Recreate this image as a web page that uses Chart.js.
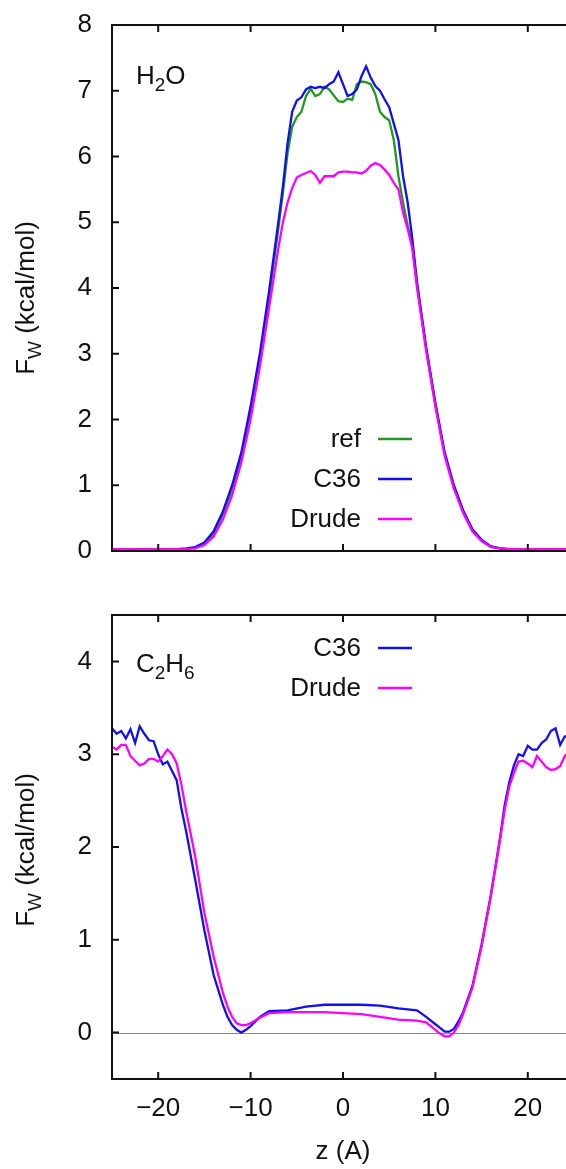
<!DOCTYPE html>
<html>
<head>
<meta charset="utf-8">
<script src="https://cdn.jsdelivr.net/npm/chart.js@4.4.0/dist/chart.umd.min.js"></script>
<style>
  html, body { margin: 0; padding: 0; background: #fff; overflow: hidden; }
  #wrap { position: relative; width: 566px; height: 1169px; overflow: hidden; }
  canvas { position: absolute; left: 0; }
  #topChart { top: 0; }
  #bottomChart { top: 590px; }
</style>
</head>
<body>
<div id="wrap">
  <canvas id="topChart" width="580" height="590"></canvas>
  <canvas id="bottomChart" width="580" height="579"></canvas>
</div>
<script>
"use strict";

/* övre panelen: H2O */
const zTop = [-25, -20, -18, -17, -16, -15, -14, -13, -12, -11, -10, -9, -8, -7, -6.5, -6, -5.5, -5, -4.5, -4,
  -3.5, -3, -2.5, -2, -1.5, -1, -0.5, 0, 0.5, 1, 1.5, 2, 2.5, 3, 3.5, 4, 4.5, 5, 5.5, 6, 6.5, 7, 7.5, 8,
  9, 10, 11, 12, 13, 14, 15, 16, 17, 18, 20, 25];
const refTop = [0.03, 0.03, 0.03, 0.03, 0.05, 0.11, 0.27, 0.56, 0.94, 1.43, 2.1, 2.9, 3.85, 4.9, 5.45, 6.05, 6.45, 6.6, 6.68, 6.92,
  7.03, 6.92, 6.95, 7.06, 7.02, 6.93, 6.84, 6.83, 6.88, 6.86, 7.1, 7.14, 7.13, 7.1, 6.95, 6.68, 6.6, 6.55, 6.25, 5.7, 5.3, 4.95, 4.65, 4.05,
  3.08, 2.22, 1.48, 0.98, 0.6, 0.32, 0.16, 0.07, 0.04, 0.03, 0.03, 0.03];
const c36Top = [0.03, 0.03, 0.03, 0.04, 0.06, 0.13, 0.3, 0.6, 1.0, 1.5, 2.2, 3.0, 3.95, 5.0, 5.55, 6.2, 6.68, 6.85, 6.9, 7.02,
  7.06, 7.04, 7.06, 7.04, 7.1, 7.14, 7.28, 7.1, 6.92, 6.95, 7.02, 7.22, 7.37, 7.2, 7.07, 7.0, 6.87, 6.75, 6.5, 6.25, 5.7, 5.3, 4.75, 4.1,
  3.1, 2.25, 1.5, 1.0, 0.62, 0.33, 0.17, 0.07, 0.04, 0.03, 0.03, 0.03];
const drudeTop = [0.03, 0.03, 0.03, 0.03, 0.04, 0.09, 0.22, 0.48, 0.85, 1.35, 2.0, 2.8, 3.7, 4.6, 5.0, 5.3, 5.52, 5.68, 5.72, 5.75,
  5.78, 5.72, 5.6, 5.7, 5.7, 5.7, 5.76, 5.77, 5.77, 5.76, 5.76, 5.74, 5.78, 5.86, 5.9, 5.87, 5.8, 5.72, 5.6, 5.5, 5.15, 4.9, 4.6, 4.02,
  3.05, 2.2, 1.45, 0.95, 0.58, 0.3, 0.15, 0.06, 0.04, 0.03, 0.03, 0.03];

/* nedre panelen: C2H6 */
const zBottom = [-25, -24.5, -24, -23.5, -23, -22.5, -22, -21.5, -21, -20.5, -20, -19.5, -19, -18.5, -18, -17.5, -17,
  -16, -15, -14, -13, -12.5, -12, -11.5, -11, -10.5, -10, -9, -8, -6, -4, -2, 0, 2, 4, 6, 8, 9, 10, 10.5, 11, 11.5,
  12, 12.5, 13, 14, 15, 16, 17, 17.5, 18, 18.5, 19, 19.5, 20, 20.5, 21, 21.5, 22, 22.5, 23, 23.5, 24, 24.5, 25];
const c36Bottom = [3.28, 3.22, 3.25, 3.17, 3.27, 3.12, 3.3, 3.22, 3.15, 3.14, 3.0, 2.89, 2.92, 2.82, 2.72, 2.42, 2.18,
  1.65, 1.1, 0.62, 0.3, 0.17, 0.08, 0.03, 0.0, 0.03, 0.07, 0.17, 0.23, 0.24, 0.28, 0.3, 0.3, 0.3, 0.29, 0.26, 0.24, 0.17, 0.09, 0.05, 0.01, 0.01,
  0.04, 0.12, 0.22, 0.5, 0.95, 1.48, 2.1, 2.45, 2.7, 2.88, 3.0, 2.98, 3.09, 3.05, 3.05, 3.12, 3.16, 3.25, 3.28, 3.1, 3.19, 3.2, 3.22];
const drudeBottom = [3.08, 3.05, 3.1, 3.1, 2.98, 2.93, 2.88, 2.9, 2.95, 2.95, 2.92, 2.98, 3.05, 3.0, 2.9, 2.68, 2.4,
  1.9, 1.29, 0.82, 0.43, 0.28, 0.17, 0.1, 0.08, 0.08, 0.1, 0.16, 0.21, 0.22, 0.22, 0.22, 0.21, 0.2, 0.17, 0.14, 0.13, 0.11, 0.03, -0.01, -0.04, -0.04,
  0.0, 0.08, 0.2, 0.48, 0.93, 1.47, 2.08, 2.4, 2.65, 2.8, 2.92, 2.93, 2.9, 2.86, 2.98, 2.92, 2.86, 2.83, 2.84, 2.87, 2.98, 3.03, 3.06];

/* axlar */
const xTicks = [-20, -10, 0, 10, 20];
const yTicksTop = [0, 1, 2, 3, 4, 5, 6, 7, 8];
const yTicksBottom = [0, 1, 2, 3, 4];

const FONT = '"Liberation Sans", Arial, sans-serif';
const FS = 26;
const GREEN = '#1f9a1f';
const BLUE = '#1010f0';
const MAGENTA = '#ff00ff';

function toPoints(zs, vals) {
  return zs.map((z, i) => ({ x: z, y: vals[i] }));
}

/* text med nedsänkta index, parts = [[text, sub], ...] */
function drawParts(ctx, parts, x, y, size) {
  let cx = x;
  parts.forEach(([t, sub]) => {
    ctx.font = (sub ? Math.round(size * 0.72) : size) + 'px ' + FONT;
    ctx.fillText(t, cx, sub ? y + size * 0.26 : y);
    cx += ctx.measureText(t).width;
  });
}
function partsWidth(ctx, parts, size) {
  let w = 0;
  parts.forEach(([t, sub]) => {
    ctx.font = (sub ? Math.round(size * 0.72) : size) + 'px ' + FONT;
    w += ctx.measureText(t).width;
  });
  return w;
}

const framePlugin = {
  id: 'frame',
  beforeDatasetsDraw(chart, args, opts) {
    if (!opts.zeroLine) return;
    const { ctx, chartArea: a, scales: { y } } = chart;
    const py = Math.round(y.getPixelForValue(0)) + 0.5;
    ctx.save();
    ctx.strokeStyle = '#8a8a8a';
    ctx.lineWidth = 1;
    ctx.beginPath();
    ctx.moveTo(a.left, py);
    ctx.lineTo(a.right, py);
    ctx.stroke();
    ctx.restore();
  },
  afterDatasetsDraw(chart, args, opts) {
    const { ctx, chartArea: a, scales: { x, y } } = chart;
    ctx.save();
    /* ram och tickmarkeringar inåt */
    ctx.strokeStyle = '#111';
    ctx.lineWidth = 2;
    ctx.strokeRect(a.left, a.top, a.right - a.left, a.bottom - a.top);
    ctx.beginPath();
    xTicks.forEach(v => {
      const px = x.getPixelForValue(v);
      ctx.moveTo(px, a.bottom); ctx.lineTo(px, a.bottom - 7);
      ctx.moveTo(px, a.top); ctx.lineTo(px, a.top + 7);
    });
    opts.yTicks.forEach(v => {
      const py = y.getPixelForValue(v);
      ctx.moveTo(a.left, py); ctx.lineTo(a.left + 7, py);
      ctx.moveTo(a.right, py); ctx.lineTo(a.right - 7, py);
    });
    ctx.stroke();

    ctx.fillStyle = '#111';
    ctx.textBaseline = 'alphabetic';
    ctx.textAlign = 'left';
    /* panel-etikett */
    drawParts(ctx, opts.label, 136, opts.labelY, FS);

    /* y-axelns titel */
    const title = [['F', false], ['W', true], [' (kcal/mol)', false]];
    ctx.translate(opts.titleX, opts.titleY);
    ctx.rotate(-Math.PI / 2);
    const w = partsWidth(ctx, title, FS);
    drawParts(ctx, title, -w / 2, 9, FS);
    ctx.setTransform(1, 0, 0, 1, 0, 0);

    /* förklaring */
    ctx.textAlign = 'right';
    ctx.textBaseline = 'middle';
    ctx.font = FS + 'px ' + FONT;
    opts.legend.forEach(item => {
      ctx.fillStyle = '#111';
      ctx.fillText(item.text, 361, item.y + 1);
      ctx.strokeStyle = item.color;
      ctx.lineWidth = 2.3;
      ctx.beginPath();
      ctx.moveTo(378, item.y);
      ctx.lineTo(412, item.y);
      ctx.stroke();
    });
    ctx.restore();
  }
};

function yScale(min, max, ticks) {
  return {
    type: 'linear',
    min: min,
    max: max,
    afterBuildTicks: s => { s.ticks = ticks.map(v => ({ value: v })); },
    afterFit: s => { s.width = 112; s.paddingTop = 0; s.paddingBottom = 0; },
    grid: { display: false, drawTicks: false },
    border: { display: false },
    ticks: { color: '#111', padding: 20, font: { family: FONT, size: FS } }
  };
}

function lineSet(label, points, color, order) {
  return {
    label: label,
    data: points,
    borderColor: color,
    borderWidth: 2.3,
    pointRadius: 0,
    tension: 0,
    fill: false,
    order: order
  };
}

Chart.defaults.animation = false;

new Chart(document.getElementById('topChart'), {
  type: 'line',
  data: {
    datasets: [
      lineSet('ref', toPoints(zTop, refTop), GREEN, 2),
      lineSet('C36', toPoints(zTop, c36Top), BLUE, 1),
      lineSet('Drude', toPoints(zTop, drudeTop), MAGENTA, 0)
    ]
  },
  options: {
    responsive: false,
    layout: { padding: { left: 0, top: 25, right: 6, bottom: 39 } },
    scales: {
      x: { type: 'linear', min: -25, max: 25, display: false },
      y: yScale(0, 8, yTicksTop)
    },
    plugins: {
      legend: { display: false },
      tooltip: { enabled: false },
      frame: {
        yTicks: yTicksTop,
        zeroLine: false,
        label: [['H', false], ['2', true], ['O', false]],
        labelY: 84,
        titleX: 25, titleY: 298,
        legend: [
          { text: 'ref', y: 439, color: GREEN },
          { text: 'C36', y: 479, color: BLUE },
          { text: 'Drude', y: 519, color: MAGENTA }
        ]
      }
    }
  },
  plugins: [framePlugin]
});

new Chart(document.getElementById('bottomChart'), {
  type: 'line',
  data: {
    datasets: [
      lineSet('C36', toPoints(zBottom, c36Bottom), BLUE, 1),
      lineSet('Drude', toPoints(zBottom, drudeBottom), MAGENTA, 0)
    ]
  },
  options: {
    responsive: false,
    layout: { padding: { left: 0, top: 25, right: 6, bottom: 0 } },
    scales: {
      x: {
        type: 'linear',
        min: -25,
        max: 25,
        afterBuildTicks: s => { s.ticks = xTicks.map(v => ({ value: v })); },
        afterFit: s => { s.height = 90; s.paddingLeft = 0; s.paddingRight = 0; },
        grid: { display: false, drawTicks: false },
        border: { display: false },
        ticks: {
          color: '#111',
          padding: 14,
          maxRotation: 0,
          font: { family: FONT, size: FS },
          callback: v => String(v).replace('-', '\u2212')
        },
        title: {
          display: true,
          text: 'z (A)',
          color: '#111',
          padding: { top: 0, bottom: 2 },
          font: { family: FONT, size: FS }
        }
      },
      y: yScale(-0.5, 4.5, yTicksBottom)
    },
    plugins: {
      legend: { display: false },
      tooltip: { enabled: false },
      frame: {
        yTicks: yTicksBottom,
        zeroLine: true,
        label: [['C', false], ['2', true], ['H', false], ['6', true]],
        labelY: 82,
        titleX: 25, titleY: 260,
        legend: [
          { text: 'C36', y: 58, color: BLUE },
          { text: 'Drude', y: 98, color: MAGENTA }
        ]
      }
    }
  },
  plugins: [framePlugin]
});
</script>
</body>
</html>
